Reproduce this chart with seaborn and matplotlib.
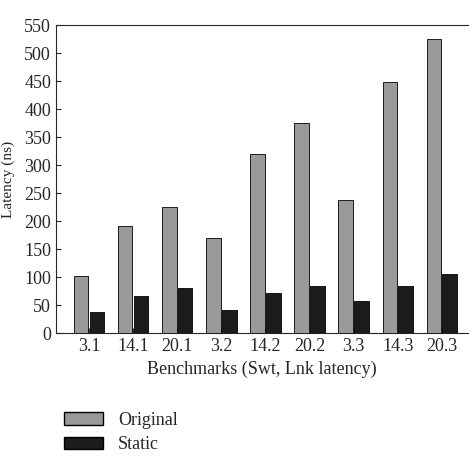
import numpy as np
import pandas as pd
import matplotlib
matplotlib.use("Agg")
import matplotlib.pyplot as plt
import seaborn as sns
from matplotlib.patches import Patch

benchmarks = ["3.1", "14.1", "20.1", "3.2", "14.2", "20.2", "3.3", "14.3", "20.3"]
original = [102, 192, 225, 170, 320, 375, 238, 448, 525]
static = [38, 67, 80, 42, 72, 85, 57, 85, 105]

df = pd.DataFrame({
    "bench": benchmarks * 2,
    "value": original + static,
    "kind": ["Original"] * 9 + ["Static"] * 9,
})

sns.set_style("ticks")
plt.rcParams["font.family"] = ["Liberation Serif", "DejaVu Serif"]

fig = plt.figure(figsize=(4.74, 4.74), dpi=100)
ax = fig.add_axes([0.118, 0.297, 0.87, 0.65])
sns.barplot(data=df, x="bench", y="value", hue="kind",
            palette=["#9a9a9a", "#1c1c1c"], edgecolor="black", linewidth=0.6,
            width=0.72, gap=0.08, ax=ax, legend=False)
ax.set_ylim(0, 550)
ax.set_yticks(range(0, 551, 50))
ax.set_xlim(-0.75, 8.6)
ax.tick_params(labelsize=13, direction="in")
ax.set_xlabel("Benchmarks (Swt, Lnk latency)", fontsize=13)
ax.set_ylabel("Latency (ns)", fontsize=11)
ax.yaxis.set_label_coords(-0.1, 0.5)
ax.spines["right"].set_visible(False)

handles = [Patch(facecolor="#9a9a9a", edgecolor="black", label="Original"),
           Patch(facecolor="#1c1c1c", edgecolor="black", label="Static")]
fig.legend(handles=handles, loc="upper left", bbox_to_anchor=(0.1, 0.165),
           frameon=False, fontsize=13, handlelength=2.2, labelspacing=0.4)

fig.savefig("out.png", dpi=100)
